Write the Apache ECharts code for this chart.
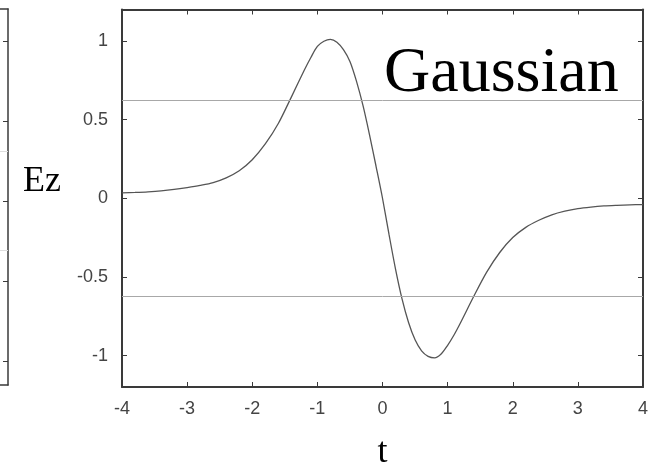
<!DOCTYPE html>
<html>
<head>
<meta charset="utf-8">
<script src="https://cdn.jsdelivr.net/npm/echarts@6/dist/echarts.min.js"></script>
<style>
  html, body { margin: 0; padding: 0; background: #ffffff; }
  #chart { width: 656px; height: 463px; }
</style>
</head>
<body>
<div id="chart"></div>
<script>
// Pulse waveform Ez(t)
const tValues = [
  -4.0, -3.8, -3.6, -3.4, -3.2, -3.0, -2.8, -2.6, -2.4, -2.2,
  -2.0, -1.8, -1.6, -1.4, -1.2, -1.1, -1.0, -0.9, -0.8, -0.7,
  -0.6, -0.5, -0.4, -0.3, -0.2, -0.1,  0.0,  0.1,  0.2,  0.3,
   0.4,  0.5,  0.6,  0.7,  0.8,  0.9,  1.0,  1.1,  1.2,  1.4,
   1.6,  1.8,  2.0,  2.2,  2.4,  2.6,  2.8,  3.0,  3.2,  3.4,
   3.6,  3.8,  4.0
];
const ezValues = [
  0.034, 0.037, 0.041, 0.047, 0.056, 0.068, 0.082, 0.100, 0.130, 0.175,
  0.245, 0.345, 0.475, 0.643, 0.815, 0.895, 0.965, 0.998, 1.010, 0.992,
  0.945, 0.870, 0.745, 0.590, 0.405, 0.205, 0.000, -0.230, -0.450, -0.640,
  -0.790, -0.900, -0.970, -1.005, -1.015, -0.990, -0.935, -0.868, -0.790, -0.625,
  -0.470, -0.345, -0.250, -0.185, -0.140, -0.105, -0.082, -0.066, -0.056, -0.049,
  -0.045, -0.042, -0.040
];

// Axis ticks
const tTicks = [-4, -3, -2, -1, 0, 1, 2, 3, 4];
const ezTicks = [-1, -0.5, 0, 0.5, 1];

// Horizontal reference levels
const guideLevels = [0.62, -0.62];

// Neighbouring panel (only its right edge is visible)
const sidePanelTicks = [-1, -0.5, 0, 0.5, 1];
const sidePanelGuides = [0.31, -0.31];

const curve = tValues.map((t, i) => [t, ezValues[i]]);

const frameColor = '#3a3a3a';
const sans = "'Liberation Sans', Arial, sans-serif";
const serif = "'Liberation Serif', 'Times New Roman', serif";

const chart = echarts.init(document.getElementById('chart'), null, { renderer: 'canvas' });

const frameLine = { show: true, onZero: false, lineStyle: { color: frameColor, width: 2 } };
const innerTick = { show: true, inside: true, length: 5, lineStyle: { color: frameColor, width: 1 } };

chart.setOption({
  animation: false,
  backgroundColor: '#ffffff',
  grid: [
    { left: 122, right: 13, top: 9.5, bottom: 76, outerBoundsMode: 'none', containLabel: false },
    { left: -100, right: 648, top: 9, bottom: 78, outerBoundsMode: 'none', containLabel: false }
  ],
  xAxis: [
    {
      gridIndex: 0, type: 'value', min: tTicks[0], max: tTicks[tTicks.length - 1], interval: 1,
      position: 'bottom',
      name: 't', nameLocation: 'middle', nameGap: 48,
      nameTextStyle: { fontFamily: serif, fontSize: 36, color: '#000' },
      axisLine: frameLine,
      axisTick: innerTick,
      axisLabel: { show: true, margin: 13, fontFamily: sans, fontSize: 18, color: '#444' },
      splitLine: { show: false }
    },
    {
      gridIndex: 0, type: 'value', min: tTicks[0], max: tTicks[tTicks.length - 1], interval: 1,
      position: 'top',
      axisLine: frameLine,
      axisTick: innerTick,
      axisLabel: { show: false },
      splitLine: { show: false }
    },
    {
      gridIndex: 1, type: 'value', min: 0, max: 1, position: 'bottom',
      axisLine: { show: true, onZero: false, lineStyle: { color: frameColor, width: 1.5 } },
      axisTick: { show: false }, axisLabel: { show: false }, splitLine: { show: false }
    },
    {
      gridIndex: 1, type: 'value', min: 0, max: 1, position: 'top',
      axisLine: { show: true, onZero: false, lineStyle: { color: frameColor, width: 1.5 } },
      axisTick: { show: false }, axisLabel: { show: false }, splitLine: { show: false }
    }
  ],
  yAxis: [
    {
      gridIndex: 0, type: 'value', min: -1.2, max: 1.2, position: 'left',
      axisLine: frameLine,
      axisTick: Object.assign({}, innerTick, { customValues: ezTicks }),
      axisLabel: { show: true, margin: 14, customValues: ezTicks,
                   fontFamily: sans, fontSize: 18, color: '#444' },
      splitLine: { show: false }
    },
    {
      gridIndex: 0, type: 'value', min: -1.2, max: 1.2, position: 'right',
      axisLine: frameLine,
      axisTick: Object.assign({}, innerTick, { customValues: ezTicks }),
      axisLabel: { show: false },
      splitLine: { show: false }
    },
    {
      gridIndex: 1, type: 'value', min: -1.15, max: 1.2, position: 'right',
      axisLine: { show: true, onZero: false, lineStyle: { color: frameColor, width: 1.5 } },
      axisTick: Object.assign({}, innerTick, { customValues: sidePanelTicks }),
      axisLabel: { show: false },
      splitLine: { show: false }
    }
  ],
  series: [
    {
      type: 'line',
      xAxisIndex: 0, yAxisIndex: 0,
      data: curve,
      smooth: 0.3,
      showSymbol: false,
      lineStyle: { color: '#555555', width: 1.3 },
      markLine: {
        silent: true,
        symbol: ['none', 'none'],
        label: { show: false },
        lineStyle: { color: '#a8a8a8', width: 1, type: 'solid' },
        data: guideLevels.map(v => ({ yAxis: v }))
      }
    },
    {
      type: 'line',
      xAxisIndex: 2, yAxisIndex: 2,
      data: [],
      markLine: {
        silent: true,
        symbol: ['none', 'none'],
        label: { show: false },
        lineStyle: { color: '#dddddd', width: 1, type: 'solid' },
        data: sidePanelGuides.map(v => ({ yAxis: v }))
      }
    }
  ],
  graphic: [
    {
      type: 'text', left: 23, top: 164,
      style: { text: 'Ez', font: '36px ' + serif, fill: '#000' }
    },
    {
      type: 'text', left: 384, top: 42,
      style: { text: 'Gaussian', font: '64px ' + serif, fill: '#000' }
    }
  ]
});
</script>
</body>
</html>
